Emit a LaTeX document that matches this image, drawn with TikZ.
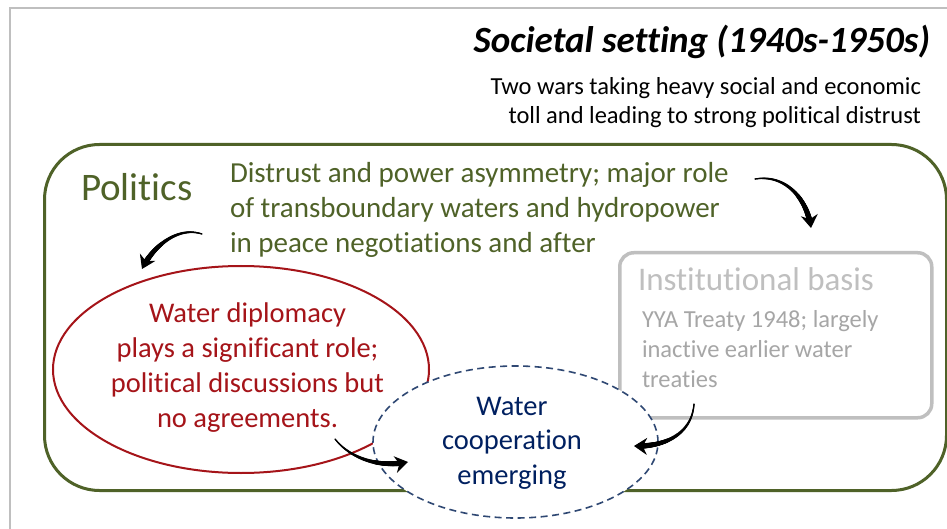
\documentclass[tikz,border=0pt]{standalone}
\usepackage{fontspec}
\setmainfont{Carlito}[Ligatures=NoCommon]
\usetikzlibrary{shapes.geometric,arrows.meta,decorations.markings}
\definecolor{frameg}{RGB}{191,191,191}
\definecolor{polgreen}{RGB}{79,98,40}
\definecolor{dipred}{RGB}{165,20,25}
\definecolor{coopblue}{RGB}{0,32,96}
\definecolor{coopline}{RGB}{47,72,115}
\definecolor{instgrey}{RGB}{191,191,191}
\definecolor{insttext}{RGB}{166,166,166}
\newcommand\fs[2]{\fontsize{#1}{#2}\selectfont}
\newcommand\ml[2]{\begin{tabular}[t]{@{}#1@{}}#2\end{tabular}}
\tikzset{
  txt/.style={inner sep=0pt, outer sep=0pt},
  taper/.style={line width=1.2pt, -{Stealth[length=13pt,width=17pt]},
    postaction={decorate, decoration={markings,
      mark=between positions 0 and 0.93 step 0.5pt with {%
        \pgfmathsetmacro\tr{0.6+2.4*\pgfkeysvalueof{/pgf/decoration/mark info/distance from start}/\pgfdecoratedpathlength}%
        \fill (0,0) circle (\tr pt);}}}},
}
\begin{document}
\begin{tikzpicture}[x=1pt,y=-1pt]
\useasboundingbox (0,0) rectangle (947,529);
\fill[white] (0,0) rectangle (947,529);
% frame
\draw[frameg, line width=2pt] (9.5,529) -- (9.5,8.5) -- (947,8.5);
% title
\node[txt, anchor=base east, font=\fs{37}{44}\bfseries\itshape] (title) at (930,53) {Societal setting (1940s-1950s)};
\node[txt, anchor=base east, font=\fs{24.5}{29}] (sub) at (921,95) {\ml{r}{Two wars taking heavy social and economic\\toll and leading to strong political distrust}};
% politics box
\node[draw=polgreen, line width=3pt, rounded corners=55pt, minimum width=902pt, minimum height=346pt, inner sep=0pt, anchor=north west] (pol) at (43,143) {};
\node[txt, anchor=base west, font=\fs{39}{44}, text=polgreen] (poltitle) at (81,201) {Politics};
\node[txt, anchor=base west, font=\fs{29}{35}, text=polgreen] (poltext) at (230,183) {\ml{l}{Distrust and power asymmetry; major role\\of transboundary waters and hydropower\\in peace negotiations and after}};
% diplomacy ellipse
\node[ellipse, draw=dipred, line width=2pt, minimum width=376pt, minimum height=207pt, inner sep=0pt] (dip) at (241,369.5) {};
\node[txt, anchor=base, font=\fs{28.5}{35}, text=dipred] (diptext) at (247.5,322) {\ml{c}{Water diplomacy\\plays a significant role;\\political discussions but\\no agreements.}};
% institutional box
\node[draw=instgrey, line width=3.5pt, rounded corners=14pt, minimum width=312pt, minimum height=165pt, inner sep=0pt, anchor=north west] (inst) at (618,251) {};
\node[txt, anchor=base west, font=\fs{33}{40}, text=instgrey] (insttitle) at (638,290) {Institutional basis};
\node[txt, anchor=base west, font=\fs{24.5}{30}, text=insttext] (insttxt) at (642,327) {\ml{l}{YYA Treaty 1948; largely\\inactive earlier water\\treaties}};
% cooperation ellipse
\node[ellipse, draw=coopline, dash pattern=on 7pt off 4.5pt, line width=1.6pt, fill=white, minimum width=285pt, minimum height=152pt, inner sep=0pt] (coop) at (515.5,442) {};
\node[txt, anchor=base, font=\fs{28.5}{34.5}, text=coopblue] (cooptext) at (512,415) {\ml{c}{Water\\cooperation\\emerging}};
% arrows
\coordinate (a1s) at (755,179);
\coordinate (a1e) at (811,228);
\coordinate (a2s) at (202,234);
\coordinate (a2e) at (142,269);
\coordinate (a3s) at (335,439);
\coordinate (a3e) at (408,462);
\coordinate (a4s) at (694,404);
\coordinate (a4e) at (634,446);
\draw[taper] (a1s) .. controls (785,174) and (807,198) .. (a1e);
\draw[taper] (a2s) .. controls (178,226) and (153,246) .. (a2e);
\draw[taper] (a3s) .. controls (350,458) and (378,468) .. (a3e);
\draw[taper] (a4s) .. controls (692,432) and (668,447) .. (a4e);
\end{tikzpicture}
\end{document}
